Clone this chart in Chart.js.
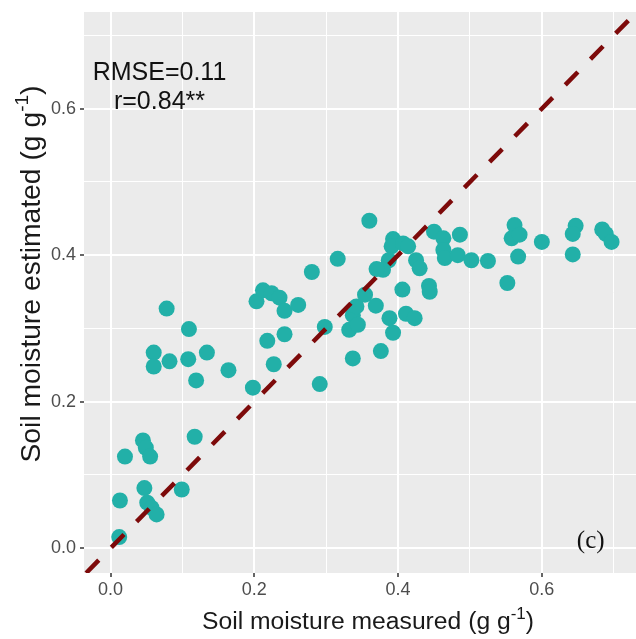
<!DOCTYPE html>
<html>
<head>
<meta charset="utf-8">
<script src="https://cdn.jsdelivr.net/npm/chart.js@4.4.0/dist/chart.umd.min.js"></script>
<style>
  html, body { margin: 0; padding: 0; background: #fff; overflow: hidden; }
  #wrap { width: 636px; height: 639px; }
  #chart { display: block; }
</style>
</head>
<body>
<div id="wrap"><canvas id="chart" width="636" height="639"></canvas></div>
<script>
/* values */
const measured = [
  0.012, 0.013, 0.020, 0.045, 0.049, 0.055, 0.047, 0.051, 0.057, 0.064,
  0.099, 0.117, 0.078, 0.109, 0.060, 0.060, 0.082, 0.108, 0.134, 0.119,
  0.164, 0.198, 0.203, 0.212, 0.224, 0.235, 0.242, 0.261, 0.280, 0.316,
  0.218, 0.242, 0.227, 0.291, 0.298, 0.337, 0.332, 0.337, 0.342, 0.344,
  0.354, 0.360, 0.393, 0.391, 0.407, 0.414, 0.387, 0.379, 0.370, 0.425,
  0.430, 0.406, 0.443, 0.444, 0.450, 0.463, 0.486, 0.463, 0.465, 0.483,
  0.502, 0.525, 0.369, 0.388, 0.393, 0.411, 0.423, 0.376, 0.562, 0.558,
  0.569, 0.567, 0.552, 0.600, 0.647, 0.643, 0.643, 0.684, 0.689, 0.697
];
const estimated = [
  0.015, 0.065, 0.125, 0.147, 0.137, 0.125, 0.082, 0.062, 0.055, 0.046,
  0.080, 0.152, 0.327, 0.299, 0.267, 0.248, 0.255, 0.258, 0.267, 0.229,
  0.243, 0.219, 0.337, 0.352, 0.348, 0.342, 0.324, 0.332, 0.377, 0.395,
  0.283, 0.292, 0.251, 0.224, 0.302, 0.259, 0.298, 0.318, 0.330, 0.305,
  0.346, 0.447, 0.422, 0.412, 0.416, 0.412, 0.393, 0.380, 0.381, 0.393,
  0.382, 0.353, 0.358, 0.350, 0.432, 0.423, 0.428, 0.407, 0.396, 0.400,
  0.393, 0.392, 0.331, 0.314, 0.294, 0.320, 0.314, 0.269, 0.441, 0.423,
  0.428, 0.398, 0.362, 0.418, 0.440, 0.429, 0.401, 0.435, 0.429, 0.418
];
const majorTicks = [0, 0.2, 0.4, 0.6];
const minorTicks = [0.1, 0.3, 0.5, 0.7];
const xRange = [-0.037, 0.731];
const yRange = [-0.034, 0.732];
const oneToOne = [-0.034, 0.74];
const statLines = ['RMSE=0.11', 'r=0.84**'];
const statPos = [0.068, 0.639];
const panelTag = '(c)';
const tagPos = [0.668, 0.0];

const sans = '"Liberation Sans", Arial, sans-serif';
const isMajor = v => majorTicks.some(m => Math.abs(m - v) < 1e-6);

const points = measured.map((x, i) => ({ x: x, y: estimated[i] }));
const linePts = oneToOne.map(v => ({ x: v, y: v }));

function setTicks(scale) {
  scale.ticks = majorTicks.concat(minorTicks).sort((a, b) => a - b).map(v => ({ value: v }));
}

// fixed axis boxes so the panel sits where the figure has it
function fitBox(size, horizontal) {
  return s => {
    if (horizontal) s.height = size; else s.width = size;
    s.paddingLeft = 0; s.paddingRight = 0; s.paddingTop = 0; s.paddingBottom = 0;
  };
}

const gridOpts = {
  color: '#ffffff',
  lineWidth: c => (c.tick && isMajor(c.tick.value)) ? 2 : 1,
  tickColor: c => (c.tick && isMajor(c.tick.value)) ? '#333333' : 'rgba(0,0,0,0)',
  tickLength: 4,
  tickWidth: 1.5,
  drawTicks: true
};

const tickOpts = {
  autoSkip: false,
  maxRotation: 0,
  color: '#4d4d4d',
  font: { family: sans, size: 18 },
  callback: v => isMajor(v) ? v.toFixed(1) : ''
};

/*panel runs right up to the canvas edge, like the figure*/
const fullRight = {
  id: 'fullRight',
  afterLayout(chart) {
    const a = chart.chartArea;
    a.right = chart.width;
    a.width = a.right - a.left;
    const x = chart.scales.x;
    x.right = chart.width;
    x.width = x.right - x.left;
    x.configure();
  }
};

/*grey panel behind the grid*/
const panelBg = {
  id: 'panelBg',
  beforeDraw(chart) {
    const { ctx, chartArea: a } = chart;
    ctx.save();
    ctx.fillStyle = '#ffffff';
    ctx.fillRect(0, 0, chart.width, chart.height);
    ctx.fillStyle = '#ebebeb';
    ctx.fillRect(a.left, a.top, a.right - a.left, a.bottom - a.top);
    ctx.restore();
  }
};

// title with a superscript unit, centred on x
function supTitle(ctx, size, base, sup, tail, x, y) {
  const big = size + 'px ' + sans, small = Math.round(size * 0.68) + 'px ' + sans;
  ctx.font = big;
  const w1 = ctx.measureText(base).width;
  const w3 = ctx.measureText(tail).width;
  ctx.font = small;
  const w2 = ctx.measureText(sup).width;
  const sx = x - (w1 + w2 + w3) / 2;
  ctx.textAlign = 'left';
  ctx.textBaseline = 'alphabetic';
  ctx.font = big;
  ctx.fillText(base, sx, y);
  ctx.font = small;
  ctx.fillText(sup, sx + w1, y - size * 0.42);
  ctx.font = big;
  ctx.fillText(tail, sx + w1 + w2, y);
}

/*axis titles and text labels*/
const labels = {
  id: 'labels',
  afterDraw(chart) {
    const { ctx, scales } = chart;
    ctx.save();
    ctx.fillStyle = '#1a1a1a';
    supTitle(ctx, 24.7, 'Soil moisture measured (g g', '-1', ')', 368, 629);

    ctx.save();
    ctx.translate(40, 274);
    ctx.rotate(-Math.PI / 2);
    supTitle(ctx, 28.3, 'Soil moisture estimated (g g', '-1', ')', 0, 0);
    ctx.restore();

    ctx.fillStyle = '#111111';
    ctx.font = '25px ' + sans;
    ctx.textAlign = 'center';
    ctx.textBaseline = 'alphabetic';
    const sx = scales.x.getPixelForValue(statPos[0]);
    const sy = scales.y.getPixelForValue(statPos[1]);
    statLines.forEach((t, i) => ctx.fillText(t, sx, sy + i * 29));

    ctx.font = '25px "Liberation Serif", "Times New Roman", serif';
    ctx.fillText(panelTag, scales.x.getPixelForValue(tagPos[0]), scales.y.getPixelForValue(tagPos[1]));
    ctx.restore();
  }
};

new Chart(document.getElementById('chart'), {
  type: 'scatter',
  data: {
    datasets: [
      {
        data: linePts,
        showLine: true,
        pointRadius: 0,
        borderColor: '#7d0a0a',
        borderWidth: 4.5,
        borderDash: [18, 18],
        borderCapStyle: 'butt',
        order: 0
      },
      {
        data: points,
        pointRadius: 8,
        pointHoverRadius: 8,
        backgroundColor: '#22b0a8',
        borderWidth: 0,
        order: 1
      }
    ]
  },
  options: {
    responsive: false,
    animation: false,
    layout: { padding: { top: 12, right: 0, left: 0, bottom: 0 } },
    plugins: {
      legend: { display: false },
      tooltip: { enabled: false }
    },
    scales: {
      x: {
        type: 'linear',
        min: xRange[0],
        max: xRange[1],
        afterBuildTicks: setTicks,
        afterFit: fitBox(66, true),
        grid: gridOpts,
        border: { display: false },
        ticks: Object.assign({ padding: 2 }, tickOpts)
      },
      y: {
        type: 'linear',
        min: yRange[0],
        max: yRange[1],
        afterBuildTicks: setTicks,
        afterFit: fitBox(84, false),
        grid: gridOpts,
        border: { display: false },
        ticks: Object.assign({ padding: 4 }, tickOpts)
      }
    }
  },
  plugins: [fullRight, panelBg, labels]
});
</script>
</body>
</html>
